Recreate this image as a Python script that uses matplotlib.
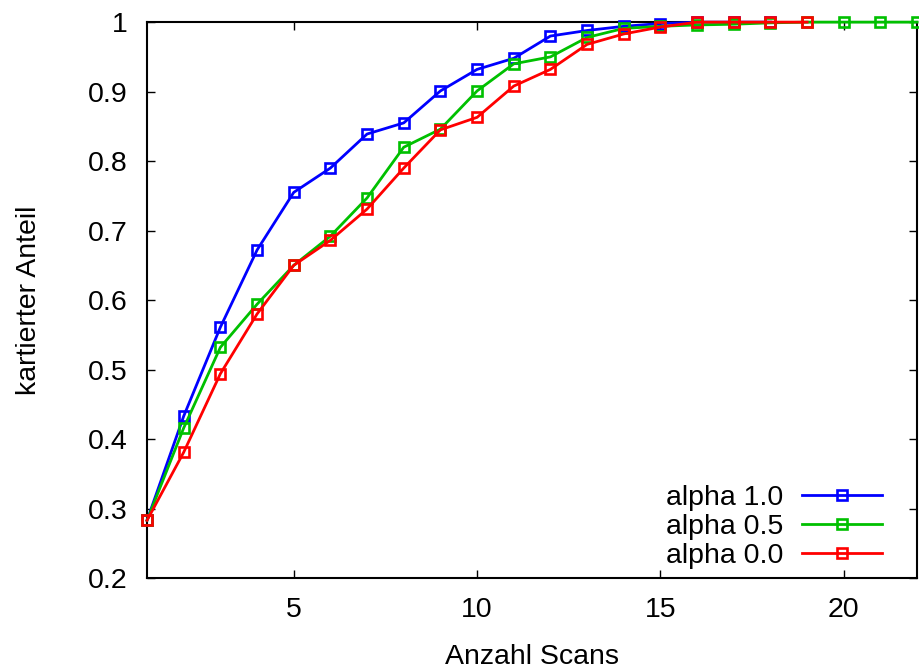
import matplotlib
matplotlib.use('Agg')
import matplotlib.pyplot as plt

# ── Daten ─────────────────────────────────────────────────────────────────────
scans_a10 = list(range(1, 19))
alpha_10 = [0.283, 0.433, 0.561, 0.672, 0.755, 0.790, 0.839, 0.855, 0.901,
            0.932, 0.948, 0.980, 0.988, 0.994, 0.998, 1.0, 1.0, 1.0]

scans_a05 = list(range(1, 23))
alpha_05 = [0.283, 0.416, 0.532, 0.594, 0.650, 0.692, 0.747, 0.820, 0.846,
            0.901, 0.940, 0.950, 0.978, 0.991, 0.994, 0.996, 0.997, 0.999,
            1.0, 1.0, 1.0, 1.0]

scans_a00 = list(range(1, 20))
alpha_00 = [0.283, 0.381, 0.494, 0.580, 0.650, 0.686, 0.731, 0.790, 0.845,
            0.863, 0.908, 0.932, 0.968, 0.983, 0.993, 1.0, 1.0, 1.0, 1.0]

x_ticks = [5, 10, 15, 20]
y_ticks = [0.2, 0.3, 0.4, 0.5, 0.6, 0.7, 0.8, 0.9, 1.0]
y_labels = ['0.2', '0.3', '0.4', '0.5', '0.6', '0.7', '0.8', '0.9', '1']

FS = 20.5
plt.rcParams['font.family'] = ['Liberation Sans', 'DejaVu Sans']
plt.rcParams['font.size'] = FS

fig = plt.figure(figsize=(9.19, 6.71), dpi=100)
ax = fig.add_axes([0.16, 0.1386, 0.838, 0.8284])

style = dict(marker='s', markersize=7, markerfacecolor='none',
             markeredgewidth=1.9, linewidth=2.0, clip_on=False)
ax.plot(scans_a10, alpha_10, color='#0000ff', label='alpha 1.0', zorder=3, **style)
ax.plot(scans_a05, alpha_05, color='#00c000', label='alpha 0.5', zorder=4, **style)
ax.plot(scans_a00, alpha_00, color='#ff0000', label='alpha 0.0', zorder=5, **style)

ax.set_xlim(1, 22)
ax.set_ylim(0.2, 1.0)
ax.set_xticks(x_ticks)
ax.set_yticks(y_ticks)
ax.set_yticklabels(y_labels)
ax.tick_params(direction='in', length=6, width=1, top=True, right=True, pad=14)
for s in ax.spines.values():
    s.set_linewidth(1.5)

ax.set_xlabel('Anzahl Scans', labelpad=15)
ax.set_ylabel('kartierter Anteil', labelpad=33)

leg = ax.legend(loc='lower right', bbox_to_anchor=(0.9545, 0.016),
                frameon=False, markerfirst=False, handlelength=2.8,
                labelspacing=0.1, borderpad=0, borderaxespad=0,
                handletextpad=0.67, fontsize=FS)

fig.savefig('out.png', dpi=100)
